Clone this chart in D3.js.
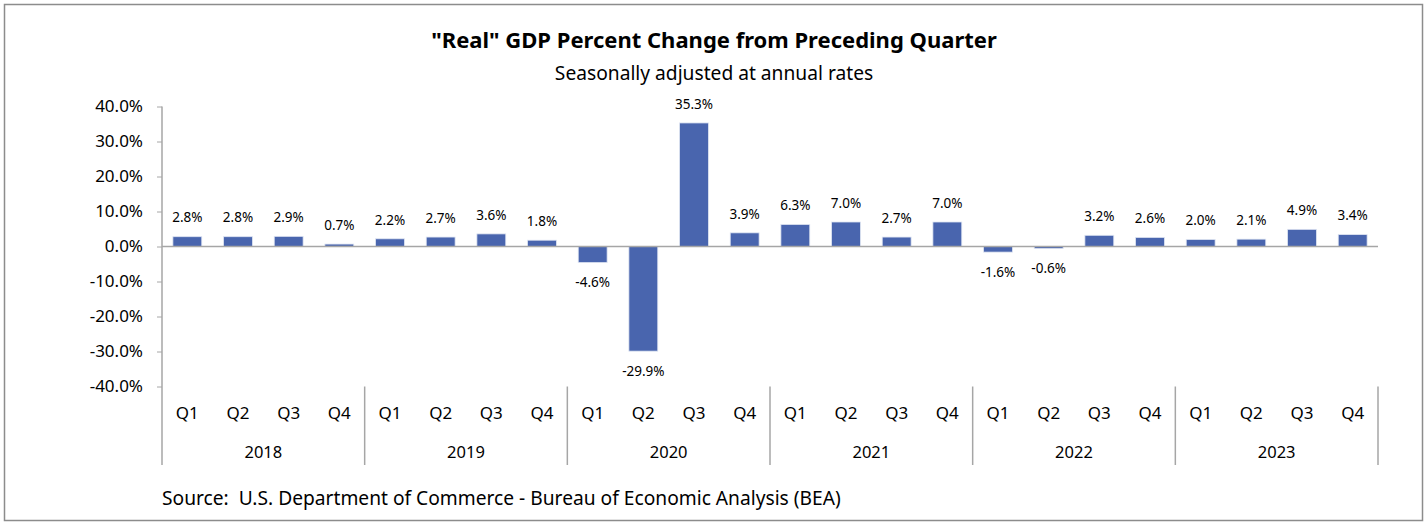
<!DOCTYPE html>
<html><head><meta charset="utf-8">
<script src="https://cdn.jsdelivr.net/npm/d3@7"></script>
<style>body{margin:0;background:#fff;} text{font-family:"Noto Sans","Open Sans",sans-serif;fill:#000;white-space:pre;}</style>
</head><body>
<svg id="c" width="1426" height="523"></svg>
<script>
const years = ["2018","2019","2020","2021","2022","2023"];
const quarters = ["Q1","Q2","Q3","Q4"];
const values = [2.8,2.8,2.9,0.7, 2.2,2.7,3.6,1.8, -4.6,-29.9,35.3,3.9, 6.3,7.0,2.7,7.0, -1.6,-0.6,3.2,2.6, 2.0,2.1,4.9,3.4];
const yTicks = [40,30,20,10,0,-10,-20,-30,-40];
const title = "\"Real\" GDP Percent Change from Preceding Quarter";
const subtitle = "Seasonally adjusted at annual rates";
const source = "Source:  U.S. Department of Commerce - Bureau of Economic Analysis (BEA)";

const pct = v => (v < 0 ? "-" : "") + Math.abs(v).toFixed(1) + "%";

const data = [];
years.forEach((y,i)=>quarters.forEach((q,j)=>data.push({key:y+q, year:y, q:q, v:values[i*4+j]})));

const svg = d3.select("#c");
svg.append("rect").attr("x",4.5).attr("y",4.5).attr("width",1418).attr("height",516)
  .attr("fill","#fff").attr("stroke","#8c8c8c").attr("stroke-width",1.5);

const L=162, R=1378, T=106.5, B=386.5;
const x = d3.scaleBand().domain(data.map(d=>d.key)).range([L,R]).paddingInner(0.43).paddingOuter(0.215);
const y = d3.scaleLinear().domain([-40,40]).range([B,T]);
const axisColor="#a6a6a6";

svg.append("text").attr("x",714).attr("y",48).attr("text-anchor","middle")
  .style("font-size","22px").style("font-weight","bold").text(title);
svg.append("text").attr("x",714).attr("y",80).attr("text-anchor","middle")
  .style("font-size","19.2px").text(subtitle);

// y axis
const ya = svg.append("g").attr("transform",`translate(${L},0)`)
  .call(d3.axisLeft(y).tickValues(yTicks).tickSize(5).tickPadding(14).tickFormat(pct));
ya.select(".domain").remove();
ya.selectAll("line").attr("stroke",axisColor);
ya.selectAll("text").style("font-size","17px").attr("fill","#000");
svg.append("line").attr("x1",L).attr("x2",L).attr("y1",T).attr("y2",465).attr("stroke",axisColor).attr("stroke-width",1.5);

// bars
svg.selectAll("rect.bar").data(data).enter().append("rect").attr("class","bar")
  .attr("x",d=>x(d.key)).attr("width",x.bandwidth())
  .attr("y",d=>y(Math.max(0,d.v))).attr("height",d=>Math.abs(y(d.v)-y(0)))
  .attr("fill","#4965ae").attr("stroke","#dfe5f2").attr("stroke-width",0.8);

// zero line
svg.append("line").attr("x1",L).attr("x2",R).attr("y1",y(0)).attr("y2",y(0)).attr("stroke",axisColor).attr("stroke-width",1.5);

// data labels
svg.selectAll("text.lab").data(data).enter().append("text").attr("class","lab")
  .attr("x",d=>x(d.key)+x.bandwidth()/2)
  .attr("y",d=>d.v>=0 ? y(d.v)-19 : y(d.v)+20)
  .attr("dy","0.35em").attr("text-anchor","middle").style("font-size","13.5px")
  .text(d=>pct(d.v));

// category axis
svg.selectAll("text.q").data(data).enter().append("text").attr("class","q")
  .attr("x",d=>x(d.key)+x.bandwidth()/2).attr("y",413).attr("dy","0.35em")
  .attr("text-anchor","middle").style("font-size","17px").text(d=>d.q);
svg.selectAll("text.yr").data(years).enter().append("text").attr("class","yr")
  .attr("x",d=>(x(d+"Q1")+x(d+"Q4")+x.bandwidth())/2).attr("y",452).attr("dy","0.35em")
  .attr("text-anchor","middle").style("font-size","16.5px").text(d=>d);
const half = x.step()*x.paddingInner()/2;
svg.selectAll("line.div").data(years).enter().append("line").attr("class","div")
  .attr("x1",d=>x(d+"Q4")+x.bandwidth()+half).attr("x2",d=>x(d+"Q4")+x.bandwidth()+half)
  .attr("y1",B).attr("y2",465).attr("stroke",axisColor).attr("stroke-width",1.5);

svg.append("text").attr("x",162).attr("y",498).attr("dy","0.35em").style("font-size","19.2px").text(source);
</script>
</body></html>
